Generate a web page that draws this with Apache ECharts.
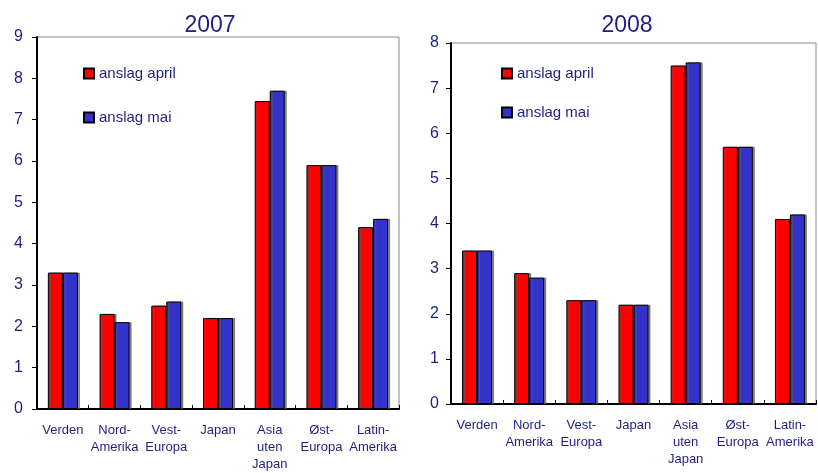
<!DOCTYPE html>
<html><head><meta charset="utf-8">
<script src="https://cdn.jsdelivr.net/npm/echarts@6/dist/echarts.min.js"></script>
<style>html,body{margin:0;padding:0;background:#fff}#c{width:818px;height:473px}</style>
</head><body><div id="c"></div>
<script>
const categories = ['Verden','Nord-\nAmerika','Vest-\nEuropa','Japan','Asia\nuten\nJapan','Øst-\nEuropa','Latin-\nAmerika'];
const titles = ['2007','2008'];
const seriesNames = ['anslag april','anslag mai'];
const april2007 = [3.3, 2.3, 2.5, 2.2, 7.45, 5.9, 4.4];
const mai2007   = [3.3, 2.1, 2.6, 2.2, 7.7, 5.9, 4.6];
const april2008 = [3.4, 2.9, 2.3, 2.2, 7.5, 5.7, 4.1];
const mai2008   = [3.4, 2.8, 2.3, 2.2, 7.57, 5.7, 4.2];
const yMax = [9, 8];

const TXT = '#1f1f80';
const FONT = 'Liberation Sans, Arial, sans-serif';
const colors = ['#ff0000', '#3333cc'];

const grids = [
  {left: 37, top: 37, width: 362, height: 372},
  {left: 451, top: 43, width: 365, height: 361}
];
const yLabelMargin = [14, 12];

function xAx(i){
  return {type:'category', gridIndex:i, data:categories,
    axisLine:{lineStyle:{color:'#000', width:2}},
    axisTick:{show:true, inside:true, length:4, lineStyle:{color:'#000'}},
    axisLabel:{color:TXT, fontFamily:FONT, fontSize:13, lineHeight:17, margin:13, interval:0}};
}
function yAx(i){
  return {type:'value', gridIndex:i, min:0, max:yMax[i], interval:1,
    splitLine:{show:false},
    axisLine:{show:true, lineStyle:{color:'#000', width:2}},
    axisTick:{show:true, length:5, lineStyle:{color:'#000'}},
    axisLabel:{color:TXT, fontFamily:FONT, fontSize:16, margin:yLabelMargin[i]}};
}
function ser(name, data, idx, color){
  return {name, type:'bar', xAxisIndex:idx, yAxisIndex:idx, data,
    barWidth:15, barGap:'0%',
    itemStyle:{color, borderColor:'#000', borderWidth:1,
      shadowColor:'rgba(90,90,90,0.7)', shadowOffsetX:2, shadowOffsetY:0, shadowBlur:0}};
}

const chart = echarts.init(document.getElementById('c'), null, {renderer:'canvas'});
chart.setOption({
  animation:false,
  backgroundColor:'#fff',
  title:[
    {text:titles[0], left:205, top:9, textAlign:'center', textStyle:{color:TXT, fontFamily:FONT, fontSize:23, fontWeight:'normal'}},
    {text:titles[1], left:622, top:9, textAlign:'center', textStyle:{color:TXT, fontFamily:FONT, fontSize:23, fontWeight:'normal'}}
  ],
  legend:[
    {left:83, top:66, padding:0, orient:'vertical', itemWidth:10, itemHeight:10, itemGap:29, icon:'rect',
      data:seriesNames, textStyle:{color:TXT, fontFamily:FONT, fontSize:15}, selectedMode:false},
    {left:501, top:66, padding:0, orient:'vertical', itemWidth:10, itemHeight:10, itemGap:24, icon:'rect',
      data:seriesNames, textStyle:{color:TXT, fontFamily:FONT, fontSize:15}, selectedMode:false}
  ],
  grid: grids.map(g => Object.assign({show:true, borderColor:'#888', borderWidth:1, backgroundColor:'transparent'}, g)),
  xAxis:[xAx(0), xAx(1)],
  yAxis:[yAx(0), yAx(1)],
  series:[
    ser(seriesNames[0], april2007, 0, colors[0]),
    ser(seriesNames[1], mai2007, 0, colors[1]),
    ser(seriesNames[0], april2008, 1, colors[0]),
    ser(seriesNames[1], mai2008, 1, colors[1])
  ]
});
</script></body></html>
